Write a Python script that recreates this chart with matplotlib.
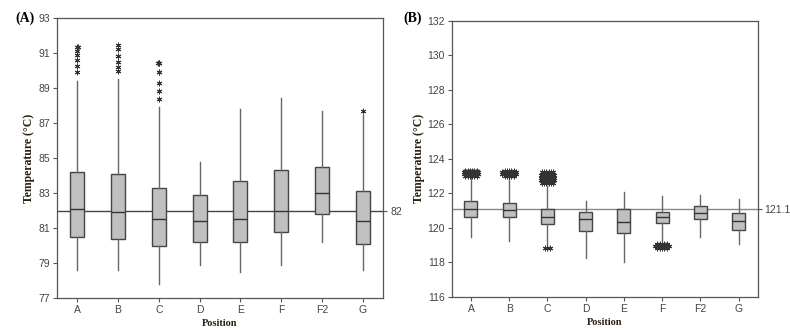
import matplotlib
matplotlib.use("Agg")
import matplotlib.pyplot as plt
import numpy as np

positions = ["A", "B", "C", "D", "E", "F", "F2", "G"]

# panel A (85 C process)
a_q1 = [80.5, 80.4, 80.0, 80.2, 80.2, 80.75, 81.8, 80.1]
a_med = [82.1, 81.9, 81.5, 81.4, 81.5, 82.0, 83.0, 81.4]
a_q3 = [84.2, 84.1, 83.3, 82.9, 83.7, 84.3, 84.5, 83.1]
a_lo = [78.6, 78.6, 77.8, 78.9, 78.5, 78.9, 80.2, 78.6]
a_hi = [89.4, 89.5, 87.9, 84.8, 87.8, 88.4, 87.7, 87.45]
a_out = [
    [91.35, 91.35, 91.1, 90.9, 90.6, 90.25, 89.9],
    [91.45, 91.25, 90.85, 90.85, 90.5, 90.2, 89.95],
    [90.45, 90.45, 90.45, 89.9, 89.9, 89.3, 88.85, 88.35],
    [], [], [], [],
    [87.7],
]
a_ref = 82

# panel B (121 C process)
b_q1 = [120.64, 120.6, 120.2, 119.83, 119.68, 120.25, 120.49, 119.85]
b_med = [121.1, 121.0, 120.6, 120.49, 120.31, 120.64, 120.87, 120.41]
b_q3 = [121.57, 121.45, 121.07, 120.93, 121.07, 120.93, 121.28, 120.87]
b_lo = [119.44, 119.25, 119.0, 118.26, 118.0, 119.2, 119.48, 119.05]
b_hi = [122.86, 122.9, 122.4, 121.55, 122.09, 121.84, 121.9, 121.66]
b_out = [
    [123.3] * 6 + [123.2] * 7 + [123.1] * 7 + [123.0] * 6,
    [123.3] * 5 + [123.2] * 7 + [123.1] * 7 + [123.0] * 5,
    [123.2] * 6 + [123.05] * 7 + [122.9] * 7 + [122.75] * 7 + [122.6] * 6
    + [118.8] * 3,
    [], [],
    [119.05] * 5 + [118.95] * 7 + [118.85] * 5,
    [], [],
]
b_ref = 121.1

plt.rcParams["font.family"] = ["Liberation Sans", "DejaVu Sans"]

fig = plt.figure(figsize=(7.9, 3.33), dpi=100)
ax_a = fig.add_axes([0.072, 0.105, 0.413, 0.841])
ax_b = fig.add_axes([0.572, 0.109, 0.387, 0.829])


def draw_panel(ax, q1, med, q3, lo, hi, out, ref, ylim, ref_color, flier_ms, spread):
    x = np.arange(1, len(positions) + 1)
    stats = []
    for i in range(len(positions)):
        stats.append(dict(med=med[i], q1=q1[i], q3=q3[i],
                          whislo=lo[i], whishi=hi[i], fliers=[]))
    ax.bxp(stats, positions=x, widths=0.34, patch_artist=True,
           showcaps=False,
           boxprops=dict(facecolor="#c0c0c0", edgecolor="#444444", linewidth=1.0),
           medianprops=dict(color="#333333", linewidth=1.0),
           whiskerprops=dict(color="#666666", linewidth=1.0),
           zorder=3)
    ax.axhline(ref, color=ref_color, linewidth=1.0, zorder=2)
    # outliers: tied values placed side by side
    for i, vals in enumerate(out):
        vals = np.array(vals)
        for v in np.unique(vals):
            n = int((vals == v).sum())
            offs = (np.arange(n) - (n - 1) / 2) * spread
            ax.plot(x[i] + offs, [v] * n, linestyle="none",
                    marker=(6, 2, 0), markersize=flier_ms,
                    color="#333333", markeredgewidth=0.7, zorder=4)
    ax.set_xlim(0.5, len(positions) + 0.5)
    ax.set_ylim(*ylim)
    ax.set_xticks(x)
    ax.set_xticklabels(positions)
    ax.set_yticks(np.arange(ylim[0], ylim[1] + 1, 2))
    ax.tick_params(axis="both", direction="out", length=3, width=0.8,
                   colors="#555555", labelcolor="#444444", labelsize=7.5, pad=2)
    for s in ax.spines.values():
        s.set_color("#555555")
        s.set_linewidth(0.9)
    ax.set_xlabel("Position", family="Liberation Serif", fontweight="bold",
                  fontsize=7.5, color="#2a2010", labelpad=3)
    ax.set_ylabel("Temperature (\u00b0C)", family="Liberation Serif",
                  fontweight="bold", fontsize=8.5, color="#2a2010", labelpad=2)
    tw = ax.twinx()
    tw.set_ylim(*ylim)
    tw.set_yticks([ref])
    tw.set_yticklabels([str(ref)])
    tw.tick_params(axis="y", direction="out", length=3, width=0.8,
                   colors="#555555", labelcolor="#444444", labelsize=7.5, pad=2)
    for s in tw.spines.values():
        s.set_visible(False)


draw_panel(ax_a, a_q1, a_med, a_q3, a_lo, a_hi, a_out, a_ref,
           (77, 93), "#444444", 4, 0.015)
draw_panel(ax_b, b_q1, b_med, b_q3, b_lo, b_hi, b_out, b_ref,
           (116, 132), "#888888", 4, 0.06)

fig.text(0.019, 0.945, "(A)", family="Liberation Serif", fontweight="bold",
         fontsize=10, va="center")
fig.text(0.510, 0.945, "(B)", family="Liberation Serif", fontweight="bold",
         fontsize=10, va="center")

fig.savefig("out.png", dpi=100)
